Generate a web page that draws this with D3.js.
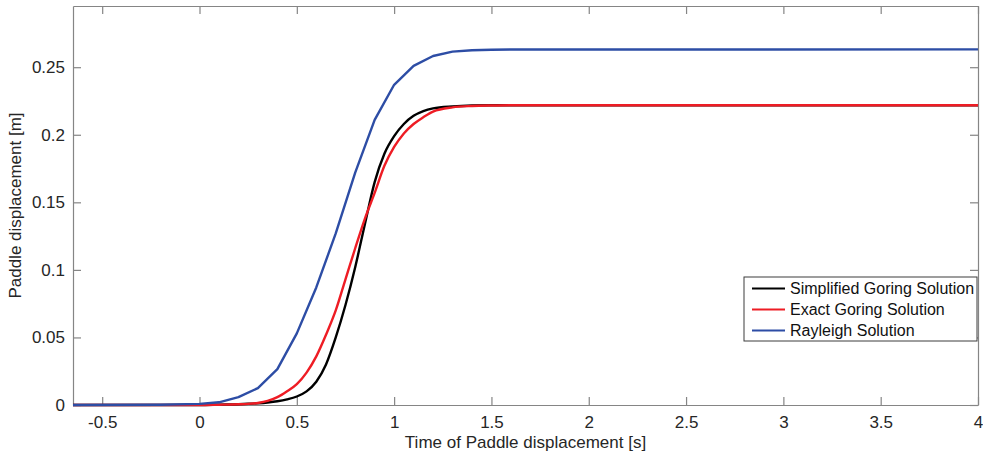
<!DOCTYPE html>
<html>
<head>
<meta charset="utf-8">
<script src="https://cdn.jsdelivr.net/npm/d3@7"></script>
<style>
	body { margin: 0; background: #fff; }
	svg { display: block; font-family: "Liberation Sans", Arial, Helvetica, sans-serif; }
</style>
</head>
<body>
<div id="chart"></div>
<script>
// Time samples (s) used by the two Goring solutions
const goringTime = [-0.65, 0, 0.1, 0.2, 0.25, 0.3, 0.35, 0.4, 0.45, 0.5, 0.55, 0.6, 0.65, 0.7, 0.75,
	0.8, 0.85, 0.9, 0.95, 1.0, 1.05, 1.1, 1.15, 1.2, 1.3, 1.4, 1.5, 1.6, 4];
// Paddle displacement (m)
const simplifiedGoring = [0, 0, 0.0003, 0.0006, 0.0009, 0.0013, 0.0019, 0.0028, 0.0042, 0.0063, 0.0101,
	0.0172, 0.030, 0.050, 0.074, 0.102, 0.134, 0.165, 0.186, 0.199, 0.208, 0.214, 0.2175, 0.2195,
	0.221, 0.2217, 0.2219, 0.2219, 0.2219];
const exactGoring = [0, 0, 0.0002, 0.0005, 0.0008, 0.0015, 0.003, 0.0058, 0.0102, 0.0155, 0.024,
	0.036, 0.052, 0.070, 0.093, 0.116, 0.138, 0.157, 0.177, 0.191, 0.201, 0.208, 0.213, 0.2172,
	0.2203, 0.2213, 0.2217, 0.2219, 0.2219];

const rayleighTime = [-0.65, -0.2, 0, 0.1, 0.2, 0.3, 0.4, 0.5, 0.6, 0.7, 0.8, 0.9, 1.0, 1.1, 1.2,
	1.3, 1.4, 1.5, 1.6, 4];
const rayleigh = [0, 0.0002, 0.0008, 0.002, 0.0058, 0.0125, 0.0265, 0.053, 0.087, 0.127, 0.172,
	0.211, 0.237, 0.251, 0.2583, 0.2615, 0.2625, 0.2629, 0.2631, 0.2632];

const xTicks = [-0.5, 0, 0.5, 1, 1.5, 2, 2.5, 3, 3.5, 4];
const yTicks = [0, 0.05, 0.1, 0.15, 0.2, 0.25];

const seriesNames = ["Simplified Goring Solution", "Exact Goring Solution", "Rayleigh Solution"];
const seriesColors = ["#000000", "#ee1c24", "#2d4da5"];

const width = 983;
const height = 458;
const margin = { top: 6, left: 73, right: 5, bottom: 53 };

const svg = d3.select("#chart")
	.append("svg")
	.attr("width", width)
	.attr("height", height);

const xScale = d3.scaleLinear()
	.domain([-0.65, 4])
	.range([margin.left, width - margin.right]);

const yScale = d3.scaleLinear()
	.domain([0, 0.2953])
	.range([height - margin.bottom, margin.top]);

const axisColor = "#858585";
const labelColor = "#262626";

function styleAxis(g) {
	g.selectAll(".domain").attr("stroke", axisColor).attr("stroke-width", 1.2);
	g.selectAll(".tick line").attr("stroke", axisColor).attr("stroke-width", 1.2);
	g.selectAll(".tick text").attr("fill", labelColor).style("font-size", "17px");
}

// plain hyphen for negatives, like the original figure
const numFormat = (d) => String(d);

// bottom axis with labels, ticks pointing inward
svg.append("g")
	.attr("transform", `translate(0, ${height - margin.bottom})`)
	.call(d3.axisBottom(xScale).tickValues(xTicks).tickFormat(numFormat).tickSize(-8).tickSizeOuter(0).tickPadding(11))
	.call(styleAxis);

// top axis, ticks only
svg.append("g")
	.attr("transform", `translate(0, ${margin.top})`)
	.call(d3.axisTop(xScale).tickValues(xTicks).tickFormat("").tickSize(-8).tickSizeOuter(0))
	.call(styleAxis);

// left axis with labels
svg.append("g")
	.attr("transform", `translate(${margin.left}, 0)`)
	.call(d3.axisLeft(yScale).tickValues(yTicks).tickFormat(numFormat).tickSize(-8).tickSizeOuter(0).tickPadding(8))
	.call(styleAxis);

// right axis, ticks only
svg.append("g")
	.attr("transform", `translate(${width - margin.right}, 0)`)
	.call(d3.axisRight(yScale).tickValues(yTicks).tickFormat("").tickSize(-8).tickSizeOuter(0))
	.call(styleAxis);

// axis titles
svg.append("text")
	.text("Time of Paddle displacement [s]")
	.attr("x", (margin.left + width - margin.right) / 2)
	.attr("y", 448)
	.style("text-anchor", "middle")
	.style("font-size", "17px")
	.attr("fill", labelColor);

svg.append("text")
	.text("Paddle displacement [m]")
	.style("text-anchor", "middle")
	.style("font-size", "17px")
	.attr("fill", labelColor)
	.attr("transform", `translate(21, ${(margin.top + height - margin.bottom) / 2}) rotate(-90)`);

// lines
const dataReady = [
	{ name: seriesNames[0], smooth: true, values: goringTime.map((t, i) => ({ time: t, value: simplifiedGoring[i] })) },
	{ name: seriesNames[1], smooth: true, values: goringTime.map((t, i) => ({ time: t, value: exactGoring[i] })) },
	{ name: seriesNames[2], smooth: false, values: rayleighTime.map((t, i) => ({ time: t, value: rayleigh[i] })) },
];

const smoothLine = d3.line()
	.x((d) => xScale(d.time))
	.y((d) => yScale(d.value))
	.curve(d3.curveMonotoneX);
const straightLine = d3.line()
	.x((d) => xScale(d.time))
	.y((d) => yScale(d.value));

svg.append("g")
	.selectAll("path")
	.data(dataReady)
	.join("path")
	.attr("d", (d) => (d.smooth ? smoothLine : straightLine)(d.values))
	.attr("stroke", (d, i) => seriesColors[i])
	.style("stroke-width", 2.4)
	.style("fill", "none")
	.style("stroke-linejoin", "round");

// legend
const legend = svg.append("g").attr("transform", "translate(744, 277)");
legend.append("rect")
	.attr("width", 233)
	.attr("height", 64)
	.attr("fill", "#fff")
	.attr("stroke", "#3c3c3c")
	.attr("stroke-width", 1);

const legendRows = legend.selectAll(".row")
	.data(seriesNames)
	.join("g")
	.attr("class", "row")
	.attr("transform", (d, i) => `translate(0, ${11.5 + i * 21})`);

legendRows.append("line")
	.attr("x1", 8)
	.attr("x2", 41)
	.attr("stroke", (d, i) => seriesColors[i])
	.attr("stroke-width", 2.2);

legendRows.append("text")
	.text((d) => d)
	.attr("x", 46)
	.attr("y", 5.5)
	.style("font-size", "16px")
	.attr("fill", "#111");
</script>
</body>
</html>
